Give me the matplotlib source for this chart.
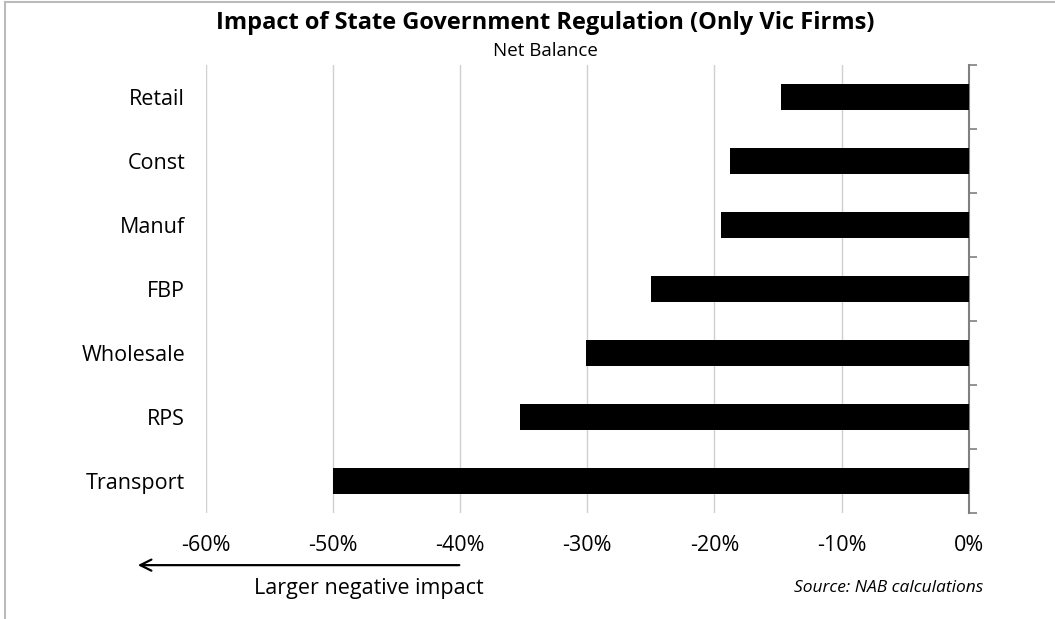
import matplotlib.pyplot as plt
from matplotlib.lines import Line2D
from matplotlib.ticker import FuncFormatter

categories = ['Retail', 'Const', 'Manuf', 'FBP', 'Wholesale', 'RPS', 'Transport']
net_balance = [-14.8, -18.8, -19.5, -25.0, -30.1, -35.3, -50.0]
xticks = [-60, -50, -40, -30, -20, -10, 0]

plt.rcParams['font.family'] = ['Open Sans', 'DejaVu Sans']

fig = plt.figure(figsize=(10.55, 6.19), dpi=100)
ax = fig.add_axes([0.1953, 0.171, 0.9182 - 0.1953, 0.895 - 0.171])

ypos = list(range(len(categories)))[::-1]
ax.barh(ypos, net_balance, height=0.41, color='black', zorder=3)

ax.set_xlim(-60, 0)
ax.set_ylim(-0.5, len(categories) - 0.5)
ax.set_xticks(xticks)
ax.xaxis.set_major_formatter(FuncFormatter(lambda v, p: '%d%%' % v))
ax.tick_params(axis='x', length=0, labelsize=15.5, pad=16)
ax.grid(axis='x', color='#d0d0d0', linewidth=1, zorder=0)

# category labels on the left, tick marks on the right axis line
ax.set_yticks(ypos)
ax.set_yticklabels(categories)
ax.tick_params(axis='y', length=0, labelsize=15.5, pad=15)
ax.set_yticks([i - 0.5 for i in range(len(categories) + 1)], minor=True)
ax.yaxis.set_tick_params(which='minor', right=True, left=False, length=6,
                         direction='out', color='#808080', width=1.2)

for s in ['top', 'left', 'bottom']:
    ax.spines[s].set_visible(False)
ax.spines['right'].set_color('#808080')
ax.spines['right'].set_linewidth(1.5)

fig.text(0.517, 0.963, 'Impact of State Government Regulation (Only Vic Firms)',
         ha='center', va='center', fontsize=17, fontweight='bold')
fig.text(0.517, 0.918, 'Net Balance', ha='center', va='center', fontsize=13.5)

ax.annotate('', xy=(0.128, 0.087), xytext=(0.438, 0.087), xycoords='figure fraction',
            arrowprops=dict(arrowstyle='->', color='black', lw=1.6, mutation_scale=20))
fig.text(0.458, 0.050, 'Larger negative impact', ha='right', va='center', fontsize=15.5)
fig.text(0.932, 0.050, 'Source: NAB calculations', ha='right', va='center',
         fontsize=12.5, style='italic')

# light frame
fig.add_artist(Line2D([0.005, 0.005], [0, 0.996], color='#bbbbbb', lw=1.5))
fig.add_artist(Line2D([0.005, 1], [0.996, 0.996], color='#bbbbbb', lw=1.5))

fig.savefig('out.png', dpi=100)
